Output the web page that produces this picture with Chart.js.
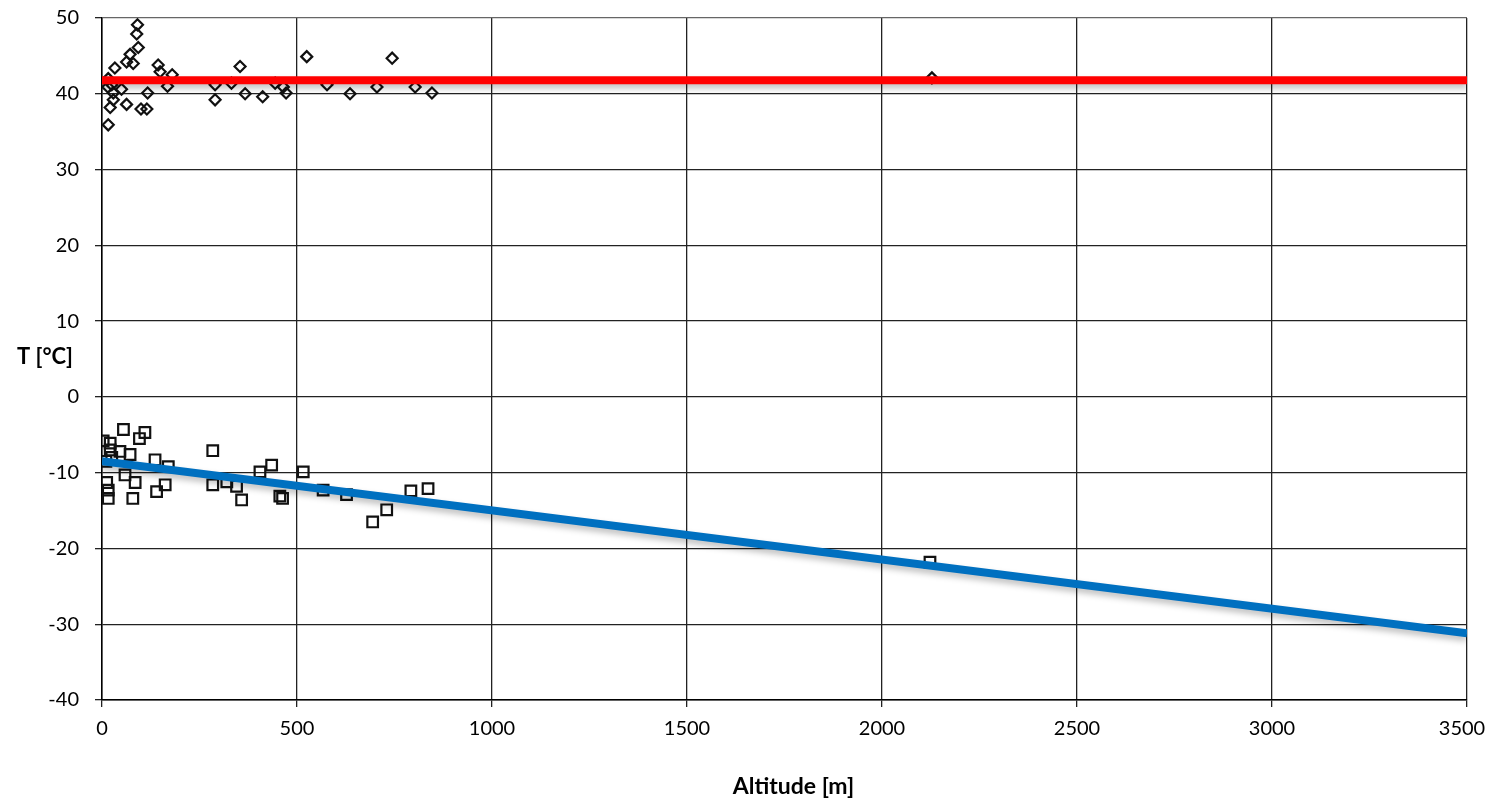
<!DOCTYPE html>
<html>
<head>
<meta charset="utf-8">
<script src="https://cdn.jsdelivr.net/npm/chart.js@4/dist/chart.umd.min.js"></script>
<style>
  html, body { margin: 0; padding: 0; background: #ffffff; }
  #wrap { width: 1485px; height: 800px; }
</style>
</head>
<body>
<div id="wrap"><canvas id="c" width="1485" height="800"></canvas></div>
<script>
// ---- data ----
const maxAltX = [16, 21, 29, 29, 15, 25, 16, 33, 50, 63, 63, 72, 80, 93, 89, 91, 100, 115, 117, 144, 149, 168, 180, 290, 290, 332, 354, 367, 412, 444, 465, 472, 525, 577, 636, 705, 744, 803, 846, 2128];
const maxTemp = [35.9, 38.2, 39.2, 40.1, 40.9, 41.2, 42, 43.4, 40.6, 38.6, 44.2, 45.2, 44, 46.1, 47.9, 49.1, 38, 38, 40.1, 43.8, 42.9, 41, 42.5, 41.2, 39.2, 41.4, 43.6, 40, 39.6, 41.4, 40.9, 40.1, 44.9, 41.2, 40, 40.9, 44.7, 40.9, 40.1, 42.1];

const minAltX = [3, 21, 21, 46, 55, 72, 96, 110, 136, 170, 284, 405, 435, 516, 12, 16, 16, 59, 85, 79, 140, 162, 284, 320, 345, 358, 456, 463, 567, 627, 694, 730, 792, 836, 2123, 10, 25];
const minTemp = [-5.8, -6.1, -7, -7.2, -4.3, -7.6, -5.5, -4.7, -8.3, -9.2, -7.1, -9.9, -9, -9.9, -11.3, -12.3, -13.4, -10.3, -11.3, -13.4, -12.5, -11.6, -11.6, -11.2, -11.8, -13.6, -13.1, -13.4, -12.3, -12.9, -16.5, -14.9, -12.4, -12.1, -21.8, -8.5, -8];

const lineAltX = [0, 3500];
const maxFit = [41.8, 41.8];
const minFit = [-8.5, -31.2];

const xTicks = [0, 500, 1000, 1500, 2000, 2500, 3000, 3500];
const yTicks = [-40, -30, -20, -10, 0, 10, 20, 30, 40, 50];

const xTitle = 'Altitude [m]';
const yTitle = 'T [°C]';

// ---- build ----
const toPts = (xs, ys) => xs.map((x, i) => ({ x: x, y: ys[i] }));
const FONT = 'Lato, "Open Sans", "Liberation Sans", sans-serif';

const titlesPlugin = {
  id: 'axisTitles',
  afterDraw(chart) {
    const ctx = chart.ctx;
    const y0 = chart.scales.y.getPixelForValue(0);
    const y10 = chart.scales.y.getPixelForValue(10);
    ctx.save();
    ctx.fillStyle = '#000';
    ctx.textAlign = 'center';
    ctx.textBaseline = 'middle';
    ctx.font = 'bold 22px ' + FONT;
    ctx.fillText(yTitle, 45, y0 - (y0 - y10) * 0.53);
    const xs = chart.scales.x;
    ctx.font = 'bold 23px ' + FONT;
    ctx.fillText(xTitle, (xs.left + xs.right) / 2 + 9, 787);
    ctx.restore();
  }
};

const shadowPlugin = {
  id: 'lineShadow',
  beforeDatasetDraw(chart, args) {
    const ds = chart.data.datasets[args.index];
    if (ds.type === 'line') {
      const ctx = chart.ctx;
      ctx.save();
      ctx.shadowColor = 'rgba(0,0,0,0.25)';
      ctx.shadowBlur = 6;
      ctx.shadowOffsetY = 4;
    }
  },
  afterDatasetDraw(chart, args) {
    const ds = chart.data.datasets[args.index];
    if (ds.type === 'line') chart.ctx.restore();
  }
};

new Chart(document.getElementById('c'), {
  type: 'scatter',
  data: {
    datasets: [
      {
        type: 'line', label: 'max fit', data: toPts(lineAltX, maxFit),
        borderColor: '#ff0000', borderWidth: 8, pointRadius: 0, fill: false, order: 0
      },
      {
        type: 'line', label: 'min fit', data: toPts(lineAltX, minFit),
        borderColor: '#0070c0', borderWidth: 8, pointRadius: 0, fill: false, order: 0
      },
      {
        label: 'Tmax', data: toPts(maxAltX, maxTemp),
        pointStyle: 'rectRot', pointRadius: 5.5, borderColor: '#111', borderWidth: 2.2,
        backgroundColor: 'rgba(255,255,255,0)', order: 1
      },
      {
        label: 'Tmin', data: toPts(minAltX, minTemp),
        pointStyle: 'rect', pointRadius: 7.5, borderColor: '#111', borderWidth: 2.2,
        backgroundColor: 'rgba(255,255,255,0)', order: 1
      }
    ]
  },
  options: {
    responsive: false,
    animation: false,
    layout: { padding: { top: 18, right: 18, bottom: 0, left: 0 } },
    plugins: { legend: { display: false }, tooltip: { enabled: false } },
    scales: {
      x: {
        type: 'linear', min: 0, max: 3500,
        afterBuildTicks: (s) => { s.ticks = xTicks.map(v => ({ value: v })); },
        afterFit: (s) => { s.height = 100; s.paddingLeft = 0; s.paddingRight = 0; },
        ticks: {
          color: '#000', font: { family: FONT, size: 20 }, padding: 10,
          callback: (v) => (v === 3500 ? String(v) + '\u2002' : String(v))
        },
        grid: { color: '#222', lineWidth: 1.3, tickLength: 7, tickColor: '#222' },
        border: { color: '#000', width: 1.5 }
      },
      y: {
        type: 'linear', min: -40, max: 50,
        afterBuildTicks: (s) => { s.ticks = yTicks.map(v => ({ value: v })); },
        afterFit: (s) => { s.width = 102; s.paddingTop = 0; s.paddingBottom = 0; },
        ticks: { color: '#000', font: { family: FONT, size: 20 }, padding: 16, callback: (v) => String(v) },
        grid: {
          color: (c) => (c.tick && c.tick.value === 50) ? '#666' : '#222',
          lineWidth: 1.3, tickLength: 7, tickColor: '#222'
        },
        border: { color: '#000', width: 1.5 }
      }
    }
  },
  plugins: [shadowPlugin, titlesPlugin]
});
</script>
</body>
</html>
